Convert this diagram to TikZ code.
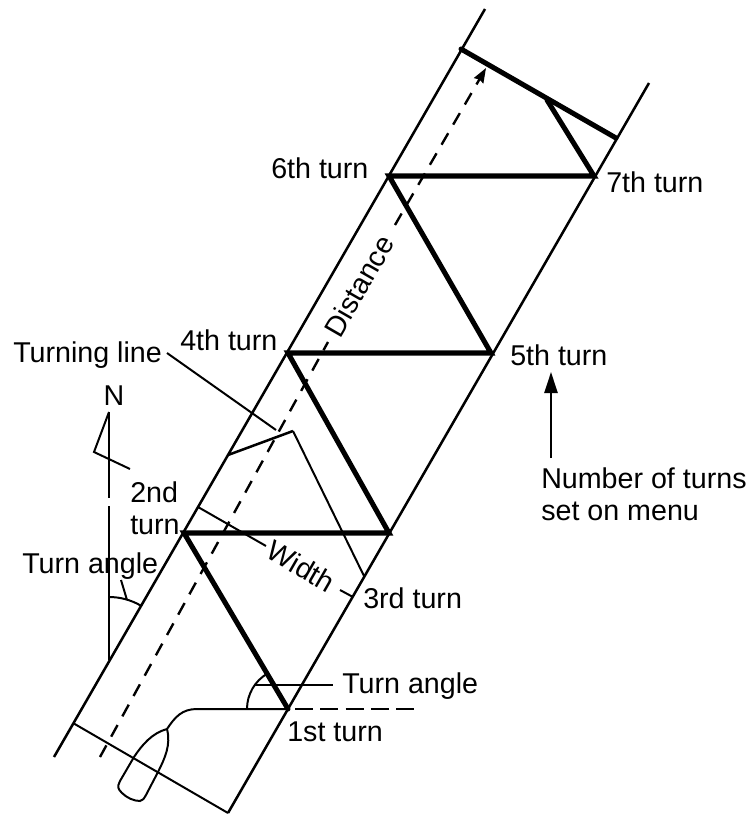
\documentclass[tikz,border=0pt]{standalone}
\usepackage{fontspec}
\usetikzlibrary{arrows.meta}
\setmainfont{Liberation Sans}
\tikzset{
	railline/.style={line width=1.9pt},
	thinline/.style={line width=1.5pt},
	legline/.style={line width=3.8pt,line cap=round},
	courseline/.style={line width=1.8pt,dash pattern=on 10pt off 7.5pt},
	label/.style={font=\fontsize{21.6}{24}\selectfont,inner sep=0pt},
	turnlabel/.style={label,anchor=base west},
}
\begin{document}
\begin{tikzpicture}[x=0.0265cm,y=-0.0265cm]
	\useasboundingbox (0,0) rectangle (754,815);
	% turn points
	\coordinate (turnA) at (288,709);
	\coordinate (turnB) at (184,533);
	\coordinate (turnC) at (389,533);
	\coordinate (turnD) at (288,353);
	\coordinate (turnE) at (491,353);
	\coordinate (turnF) at (389,176);
	\coordinate (turnG) at (594,176);
	\coordinate (turnEnd) at (547,100);
	% rails
	\coordinate (railLB) at (54,757);
	\coordinate (railLT) at (485,9);
	\coordinate (railRB) at (228,813);
	\coordinate (railRT) at (649,83);
	\draw[railline] (railLB) -- (railLT);
	\draw[railline] (railRB) -- (railRT);
	\coordinate (baseL) at (73,723);
	\draw[thinline] (baseL) -- (railRB);
	\coordinate (topL) at (461,49);
	\coordinate (topR) at (616,138);
	\draw[legline] (topL) -- (topR);
	% legs
	\draw[legline,line join=miter] (turnA) -- (turnB) -- (turnC) -- (turnD) -- (turnE) -- (turnF) -- (turnG) -- (turnEnd);
	% course line
	\node[label,rotate=60] (distLabel) at (359,286) {Distance};
	\coordinate (courseA) at (100,757);
	\coordinate (courseB) at (328,342);
	\coordinate (courseC) at (395,225);
	\coordinate (courseD) at (486,68);
	\draw[courseline] (courseA) -- (courseB);
	\draw[courseline,-{Stealth[length=11pt,width=8pt,inset=1pt]}] (courseC) -- (courseD);
	% turning line
	\coordinate (turnLineA) at (228,455);
	\coordinate (turnLineB) at (293,431);
	\coordinate (turnLineC) at (364,576);
	\draw[railline] (turnLineA) -- (turnLineB);
	\draw[thinline] (turnLineB) -- (turnLineC);
	\node[turnlabel] (turningLabel) at (13,362) {Turning line};
	\coordinate (turningStart) at (167,353);
	\coordinate (turningEnd) at (276,430);
	\draw[thinline] (turningStart) -- (turningEnd);
	% width
	\node[label,rotate=-30] (widthLabel) at (301,566) {Width};
	\coordinate (widthA) at (198,507);
	\coordinate (widthB) at (266,546);
	\coordinate (widthC) at (340,590);
	\coordinate (widthD) at (353,597);
	\draw[thinline] (widthA) -- (widthB);
	\draw[thinline] (widthC) -- (widthD);
	% north
	\node[label] (northLabel) at (114,396) {N};
	\coordinate (northTop) at (109,412);
	\coordinate (northFoot) at (109,660);
	\draw[thinline] (northTop) -- (109,498);
	\draw[thinline] (109,506) -- (northFoot);
	\coordinate (flagA) at (94,452);
	\coordinate (flagB) at (130,469);
	\draw[thinline] (northTop) -- (flagA) -- (flagB);
	\draw[thinline] (109,597) arc[start angle=270,end angle=300,radius=63];
	\coordinate (angleLeadA) at (121,580);
	\coordinate (angleLeadB) at (127,600);
	\draw[thinline] (angleLeadA) -- (angleLeadB);
	% ship and heading
	\coordinate (bow) at (167,729);
	\draw[thinline] (turnA) -- (197,709) .. controls (182,709) and (175,717) .. (bow);
	\draw[thinline,dash pattern=on 13.5pt off 5.6pt] (295,709) -- (414,709);
	\draw[thinline] (bow) .. controls (152,733) and (142,745) .. (134,757)
		-- (120,781) .. controls (117,787) and (118,789) .. (122,793)
		.. controls (127,798) and (134,801) .. (140,801)
		.. controls (143,801) and (144,798) .. (146,795)
		-- (158,772) .. controls (165,758) and (171,745) .. (bow);
	\draw[thinline] (247,709) arc[start angle=180,end angle=240,radius=41];
	\coordinate (angleLeadC) at (255,685);
	\coordinate (angleLeadD) at (333,685);
	\draw[thinline] (angleLeadC) -- (angleLeadD);
	% turn labels
	\node[turnlabel] (labelSix) at (271,178) {6th turn};
	\node[turnlabel] (labelSeven) at (606,193) {7th turn};
	\node[turnlabel] (labelFour) at (180,350) {4th turn};
	\node[turnlabel] (labelFive) at (510,365) {5th turn};
	\node[label,anchor=west,align=left] (labelTwo) at (130,508) {2nd\\turn};
	\node[turnlabel] (labelThree) at (363,608) {3rd turn};
	\node[turnlabel] (labelOne) at (287,741) {1st turn};
	\node[turnlabel] (angleLeft) at (22,573) {Turn angle};
	\node[turnlabel] (angleRight) at (342,693) {Turn angle};
	\node[label,anchor=west,align=left] (menuLabel) at (541,494) {Number of turns\\set on menu};
	\coordinate (menuTop) at (551,372);
	\draw[thinline,-{Stealth[length=16pt,width=10pt,inset=0pt]}] (551,458) -- (menuTop);
\end{tikzpicture}
\end{document}
